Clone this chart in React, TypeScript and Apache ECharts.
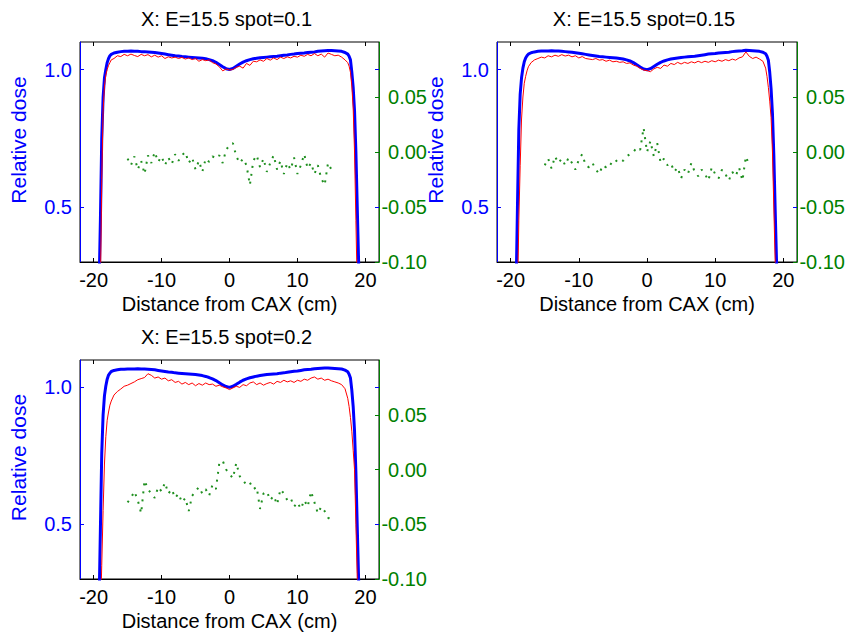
import React, { useEffect, useRef } from "react";
import * as echarts from "echarts";

const titles = ["X: E=15.5 spot=0.1", "X: E=15.5 spot=0.15", "X: E=15.5 spot=0.2"];
const xTicks = [-20, -10, 0, 10, 20];
const doseTicks = [0.5, 1.0];
const diffTicks = [-0.1, -0.05, 0, 0.05];

const xProfile = [
  -19.2, -19.0, -18.8, -18.6, -18.4, -18.2, -18.0, -17.8, -17.6, -17.4,
  -17.0, -16.5, -16.0, -15.5, -15.0, -14.5, -14.0, -13.5, -13.0, -12.5,
  -12.0, -11.5, -11.0, -10.5, -10.0, -9.5, -9.0, -8.5, -8.0, -7.5,
  -7.0, -6.5, -6.0, -5.5, -5.0, -4.5, -4.0, -3.5, -3.0, -2.5,
  -2.0, -1.5, -1.0, -0.5, 0.0, 0.5, 1.0, 1.5, 2.0, 2.5,
  3.0, 3.5, 4.0, 4.5, 5.0, 5.5, 6.0, 6.5, 7.0, 7.5,
  8.0, 8.5, 9.0, 9.5, 10.0, 10.5, 11.0, 11.5, 12.0, 12.5,
  13.0, 13.5, 14.0, 14.5, 15.0, 15.5, 16.0, 16.5, 17.0, 17.4,
  17.6, 17.8, 18.0, 18.2, 18.4, 18.6, 18.8, 19.0, 19.2,
];

const blue1 = [
  0.20, 0.45, 0.75, 0.90, 0.97, 1.00, 1.025, 1.040, 1.050, 1.055,
  1.060, 1.063, 1.065, 1.066, 1.066, 1.067, 1.066, 1.066, 1.065, 1.065,
  1.064, 1.063, 1.062, 1.060, 1.058, 1.056, 1.054, 1.052, 1.050, 1.049,
  1.047, 1.046, 1.045, 1.044, 1.043, 1.042, 1.041, 1.039, 1.036, 1.032,
  1.026, 1.018, 1.010, 1.003, 1.000, 1.004, 1.012, 1.020, 1.027, 1.032,
  1.036, 1.039, 1.041, 1.043, 1.044, 1.045, 1.046, 1.047, 1.048, 1.050,
  1.052, 1.053, 1.055, 1.056, 1.058, 1.059, 1.060, 1.062, 1.063, 1.064,
  1.066, 1.067, 1.068, 1.069, 1.069, 1.068, 1.067, 1.066, 1.062, 1.056,
  1.048, 1.035, 0.990, 0.935, 0.850, 0.700, 0.500, 0.300, 0.100,
];
const red1 = [
  0.05, 0.20, 0.60, 0.85, 0.94, 0.98, 1.000, 1.015, 1.025, 1.035,
  1.040, 1.050, 1.047, 1.055, 1.050, 1.056, 1.051, 1.047, 1.055, 1.050,
  1.054, 1.046, 1.052, 1.045, 1.050, 1.040, 1.046, 1.042, 1.045, 1.040,
  1.044, 1.038, 1.042, 1.036, 1.040, 1.030, 1.036, 1.032, 1.035, 1.025,
  1.020, 1.010, 0.995, 1.002, 0.998, 1.000, 1.008, 1.012, 1.005, 1.022,
  1.015, 1.030, 1.028, 1.035, 1.030, 1.040, 1.034, 1.042, 1.036, 1.045,
  1.040, 1.046, 1.042, 1.048, 1.045, 1.052, 1.048, 1.055, 1.050, 1.058,
  1.050, 1.056, 1.045, 1.060, 1.055, 1.050, 1.052, 1.045, 1.035, 1.025,
  1.012, 0.990, 0.940, 0.860, 0.700, 0.450, 0.200, 0.050, 0.000,
];

const blue2 = [
  0.20, 0.50, 0.78, 0.91, 0.97, 1.005, 1.028, 1.042, 1.050, 1.056,
  1.061, 1.064, 1.066, 1.067, 1.067, 1.067, 1.068, 1.067, 1.067, 1.066,
  1.065, 1.064, 1.063, 1.061, 1.059, 1.057, 1.055, 1.053, 1.051, 1.049,
  1.047, 1.046, 1.045, 1.044, 1.043, 1.042, 1.040, 1.038, 1.035, 1.031,
  1.025, 1.017, 1.009, 1.002, 0.999, 1.003, 1.011, 1.019, 1.026, 1.031,
  1.035, 1.038, 1.040, 1.042, 1.044, 1.045, 1.046, 1.047, 1.048, 1.050,
  1.052, 1.054, 1.056, 1.057, 1.058, 1.060, 1.061, 1.062, 1.063, 1.065,
  1.066, 1.067, 1.068, 1.070, 1.069, 1.068, 1.067, 1.066, 1.063, 1.057,
  1.048, 1.034, 0.990, 0.930, 0.840, 0.690, 0.490, 0.300, 0.100,
];
const red2 = [
  0.05, 0.15, 0.45, 0.65, 0.82, 0.90, 0.950, 0.975, 0.995, 1.010,
  1.025, 1.035, 1.040, 1.045, 1.042, 1.050, 1.046, 1.052, 1.048, 1.054,
  1.049, 1.052, 1.046, 1.050, 1.042, 1.047, 1.040, 1.038, 1.036, 1.040,
  1.034, 1.036, 1.030, 1.034, 1.028, 1.030, 1.026, 1.028, 1.022, 1.024,
  1.016, 1.012, 1.004, 0.998, 0.996, 0.992, 1.002, 1.008, 1.004, 1.016,
  1.012, 1.022, 1.018, 1.026, 1.020, 1.026, 1.022, 1.028, 1.024, 1.030,
  1.025, 1.030, 1.026, 1.032, 1.028, 1.034, 1.030, 1.036, 1.032, 1.038,
  1.034, 1.042, 1.046, 1.064, 1.048, 1.040, 1.045, 1.038, 1.030, 1.005,
  0.975, 0.935, 0.885, 0.825, 0.700, 0.500, 0.300, 0.100, 0.000,
];

const blue3 = [
  0.20, 0.48, 0.76, 0.90, 0.97, 1.005, 1.030, 1.045, 1.052, 1.058,
  1.062, 1.064, 1.066, 1.066, 1.067, 1.067, 1.067, 1.068, 1.067, 1.067,
  1.066, 1.065, 1.064, 1.062, 1.060, 1.058, 1.056, 1.055, 1.053, 1.052,
  1.051, 1.050, 1.049, 1.048, 1.047, 1.045, 1.043, 1.040, 1.036, 1.031,
  1.025, 1.017, 1.009, 1.003, 1.000, 1.004, 1.011, 1.019, 1.026, 1.031,
  1.035, 1.038, 1.041, 1.043, 1.045, 1.047, 1.048, 1.049, 1.050, 1.052,
  1.053, 1.055, 1.057, 1.059, 1.060, 1.062, 1.064, 1.065, 1.066, 1.068,
  1.069, 1.070, 1.071, 1.071, 1.070, 1.069, 1.068, 1.067, 1.063, 1.057,
  1.048, 1.034, 0.990, 0.930, 0.840, 0.690, 0.490, 0.300, 0.100,
];
const red3 = [
  0.05, 0.15, 0.35, 0.55, 0.72, 0.82, 0.880, 0.910, 0.935, 0.950,
  0.972, 0.985, 0.994, 1.004, 1.008, 1.014, 1.020, 1.028, 1.032, 1.036,
  1.050, 1.044, 1.034, 1.038, 1.030, 1.034, 1.024, 1.028, 1.018, 1.022,
  1.012, 1.018, 1.010, 1.016, 1.006, 1.014, 1.008, 1.016, 1.010, 1.012,
  1.004, 1.008, 1.002, 0.998, 0.992, 0.998, 1.004, 1.000, 1.010, 1.006,
  1.016, 1.020, 1.010, 1.016, 1.008, 1.014, 1.018, 1.012, 1.022, 1.018,
  1.026, 1.020, 1.024, 1.018, 1.026, 1.022, 1.030, 1.026, 1.034, 1.038,
  1.030, 1.034, 1.026, 1.030, 1.024, 1.020, 1.016, 1.010, 0.995, 0.960,
  0.930, 0.890, 0.840, 0.770, 0.700, 0.500, 0.300, 0.100, 0.000,
];

const xDiff = [
  -15.0, -14.5, -14.0, -13.5, -13.0, -12.5, -12.0, -11.5, -11.0, -10.5,
  -10.0, -9.5, -9.0, -8.5, -8.0, -7.5, -7.0, -6.5, -6.0, -5.5,
  -5.0, -4.5, -4.0, -3.5, -3.0, -2.5, -2.0, -1.5, -1.0, -0.5,
  0.0,
  0.5, 1.0, 1.5, 2.0, 2.5, 3.0, 3.5, 4.0, 4.5, 5.0,
  5.5, 6.0, 6.5, 7.0, 7.5, 8.0, 8.5, 9.0, 9.5, 10.0,
  10.5, 11.0, 11.5, 12.0, 12.5, 13.0, 13.5, 14.0, 14.5, 15.0,
];
const green1 = [
  -0.006, -0.012, -0.004, -0.016, -0.008, -0.020, -0.003, -0.010, 0.000, -0.009,
  -0.004, -0.012, -0.005, -0.011, -0.002, -0.008, -0.003, 0.000, -0.010, -0.005,
  -0.016, -0.008, -0.018, -0.006, -0.009, -0.004, -0.006, -0.003, -0.010, 0.002,
  0.006,
  0.008, -0.004, -0.010, -0.006, -0.012, -0.030, -0.008, -0.003, -0.014, -0.006,
  -0.018, -0.010, -0.003, -0.016, -0.008, -0.020, -0.010, -0.016, -0.005, -0.020,
  -0.012, -0.002, -0.015, -0.010, -0.020, -0.012, -0.024, -0.030, -0.010, -0.016,
];
const green2 = [
  -0.012, -0.006, -0.015, -0.004, -0.010, -0.006, -0.012, -0.005, -0.010, -0.016,
  -0.007, -0.002, -0.012, -0.014, -0.010, -0.016, -0.020, -0.012, -0.014, -0.010,
  -0.012, -0.008, -0.006, -0.008, -0.004, -0.002, 0.000, 0.004, 0.002, 0.022,
  0.000,
  0.010, -0.004, 0.008, -0.010, -0.006, -0.012, -0.010, -0.018, -0.014, -0.024,
  -0.016, -0.020, -0.010, -0.018, -0.022, -0.016, -0.020, -0.026, -0.014, -0.020,
  -0.024, -0.016, -0.020, -0.026, -0.018, -0.022, -0.014, -0.026, -0.004, -0.012,
];
const green3 = [
  -0.030, -0.026, -0.020, -0.028, -0.040, -0.010, -0.018, -0.022, -0.026, -0.016,
  -0.020, -0.012, -0.022, -0.018, -0.026, -0.022, -0.030, -0.026, -0.038, -0.024,
  -0.020, -0.016, -0.022, -0.018, -0.024, -0.014, -0.018, 0.006, 0.008, 0.000,
  -0.004,
  -0.008, 0.006, -0.006, -0.010, -0.014, -0.012, -0.018, -0.016, -0.036, -0.022,
  -0.020, -0.028, -0.024, -0.032, -0.018, -0.022, -0.028, -0.026, -0.034, -0.030,
  -0.036, -0.028, -0.034, -0.020, -0.030, -0.040, -0.034, -0.038, -0.044, -0.046,
];

const panels = [
  { title: titles[0], blue: blue1, red: red1, green: green1 },
  { title: titles[1], blue: blue2, red: red2, green: green2 },
  { title: titles[2], blue: blue3, red: red3, green: green3 },
];

const FONT = "'Liberation Sans', Arial, Helvetica, sans-serif";
const BLUE = "#0000ff";
const RED = "#ff0000";
const GREEN = "#008000";
const DOT_GREEN = "#1f8f1f";

const gridBoxes = [
  { left: 80, top: 42, width: 299, height: 220 },
  { left: 497, top: 42, width: 300, height: 220 },
  { left: 80, top: 360, width: 299, height: 219 },
];

function buildOption() {
  const grid: any[] = [];
  const xAxis: any[] = [];
  const yAxis: any[] = [];
  const series: any[] = [];
  const title: any[] = [];

  panels.forEach((p, i) => {
    const g = gridBoxes[i];
    grid.push({
      left: g.left, top: g.top, width: g.width, height: g.height,
      show: true, borderColor: "#000", borderWidth: 1, backgroundColor: "#fff",
      containLabel: false,
    });
    title.push({
      text: p.title,
      left: g.left + g.width / 2 - 3,
      top: g.top - 33,
      textAlign: "center",
      padding: 0,
      textStyle: { fontSize: 20, fontWeight: "normal", color: "#000", fontFamily: FONT },
    });
    // bottom x axis
    xAxis.push({
      gridIndex: i, type: "value", min: -22, max: 22, position: "bottom",
      axisLine: { show: true, onZero: false, lineStyle: { color: "#000", width: 1 } },
      axisTick: { show: true, inside: true, length: 4, customValues: xTicks, lineStyle: { color: "#000" } },
      axisLabel: { show: true, customValues: xTicks, fontSize: 20, color: "#000", margin: 8, fontFamily: FONT },
      splitLine: { show: false },
      name: "Distance from CAX (cm)", nameLocation: "middle", nameGap: 32,
      nameTextStyle: { fontSize: 20, color: "#000", fontFamily: FONT },
    });
    // top mirror x axis
    xAxis.push({
      gridIndex: i, type: "value", min: -22, max: 22, position: "top",
      axisLine: { show: false, onZero: false },
      axisTick: { show: true, inside: true, length: 4, customValues: xTicks, lineStyle: { color: "#000" } },
      axisLabel: { show: false },
      splitLine: { show: false },
    });
    // left dose axis
    yAxis.push({
      gridIndex: i, type: "value", min: 0.3, max: 1.1, position: "left",
      axisLine: { show: true, onZero: false, lineStyle: { color: BLUE, width: 1 } },
      axisTick: { show: true, inside: true, length: 4, customValues: doseTicks, lineStyle: { color: BLUE } },
      axisLabel: {
        show: true, customValues: doseTicks, fontSize: 20, color: BLUE, margin: 8, fontFamily: FONT,
        formatter: (v: number) => v.toFixed(1),
      },
      splitLine: { show: false },
      name: "Relative dose", nameLocation: "middle", nameGap: 51,
      nameTextStyle: { fontSize: 21, color: BLUE, fontFamily: FONT, padding: [0, 0, 0, 24] },
    });
    // right difference axis
    yAxis.push({
      gridIndex: i, type: "value", min: -0.1, max: 0.1, position: "right",
      axisLine: { show: true, onZero: false, lineStyle: { color: GREEN, width: 1 } },
      axisTick: { show: true, inside: true, length: 4, customValues: diffTicks, lineStyle: { color: GREEN } },
      axisLabel: {
        show: true, customValues: diffTicks, fontSize: 20, color: GREEN, margin: 48, align: "right",
        fontFamily: FONT, formatter: (v: number) => v.toFixed(2),
      },
      splitLine: { show: false },
    });
    // right mirror of dose ticks
    yAxis.push({
      gridIndex: i, type: "value", min: 0.3, max: 1.1, position: "right",
      axisLine: { show: false, onZero: false },
      axisTick: { show: true, inside: true, length: 4, customValues: doseTicks, lineStyle: { color: BLUE } },
      axisLabel: { show: false },
      splitLine: { show: false },
    });

    series.push({
      type: "line", xAxisIndex: 2 * i, yAxisIndex: 3 * i,
      data: xProfile.map((x, k) => [x, p.blue[k]]),
      symbol: "none", clip: true, silent: true,
      lineStyle: { color: BLUE, width: 3 },
    });
    series.push({
      type: "line", xAxisIndex: 2 * i, yAxisIndex: 3 * i,
      data: xProfile.map((x, k) => [x, p.red[k]]),
      symbol: "none", clip: true, silent: true,
      lineStyle: { color: RED, width: 1 },
    });
    series.push({
      type: "line", xAxisIndex: 2 * i, yAxisIndex: 3 * i + 1,
      data: xDiff.map((x, k) => [x, p.green[k]]),
      symbol: "none", clip: true, silent: true,
      lineStyle: { color: DOT_GREEN, width: 2, type: [2, 6] },
    });
  });

  return {
    animation: false,
    backgroundColor: "#fff",
    textStyle: { fontFamily: FONT },
    title, grid, xAxis, yAxis, series,
  };
}

export default function App() {
  const ref = useRef<HTMLDivElement>(null);
  useEffect(() => {
    if (!ref.current) return;
    const chart = echarts.init(ref.current, null, { renderer: "svg" });
    chart.setOption(buildOption() as any);
    return () => chart.dispose();
  }, []);
  return (
    <div
      ref={ref}
      style={{ position: "absolute", left: 0, top: 0, width: 849, height: 640, background: "#fff" }}
    />
  );
}
